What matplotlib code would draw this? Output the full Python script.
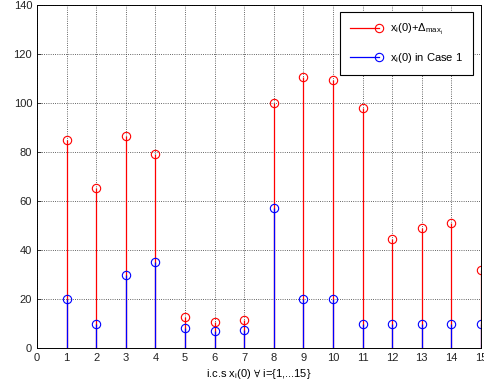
import matplotlib
matplotlib.use("Agg")
import matplotlib.pyplot as plt
from matplotlib.lines import Line2D
from matplotlib.legend_handler import HandlerBase

plt.rcParams['font.family'] = ['Liberation Sans', 'DejaVu Sans']
plt.rcParams['mathtext.default'] = 'regular'
plt.rcParams['font.size'] = 8

# data
idx = list(range(1, 16))
x_max = [85, 65.5, 86.5, 79, 12.5, 10.5, 11.5, 100, 110.5, 109.5, 98, 44.5, 49, 51, 32]
x_case1 = [20, 10, 30, 35, 8, 7, 7.5, 57, 20, 20, 10, 10, 10, 10, 10]


class EndMarker(HandlerBase):
    # legend entry: line with the marker only at its right end (matlab style)
    def create_artists(self, legend, orig_handle, xdescent, ydescent, width, height, fontsize, trans):
        y = height / 2 - ydescent
        x0, x1 = -xdescent, width - xdescent
        line = Line2D([x0, x1], [y, y], color=orig_handle.get_color(),
                      linewidth=orig_handle.get_linewidth())
        mk = Line2D([x1], [y], linestyle='none', marker='o', markerfacecolor='none',
                    markeredgecolor=orig_handle.get_color(),
                    markersize=orig_handle.get_markersize(), markeredgewidth=0.8)
        line.set_transform(trans)
        mk.set_transform(trans)
        return [line, mk]


fig = plt.figure(figsize=(4.84, 3.83), dpi=100)
ax = fig.add_axes([37/484, 35/383, 444/484, 343/383])

# red stems first, blue ones drawn on top
ml, sl, bl = ax.stem(idx, x_max, basefmt=' ')
plt.setp(sl, color='red', linewidth=0.9)
plt.setp(ml, marker='o', markerfacecolor='none', markeredgecolor='red', markersize=6, markeredgewidth=0.8)

ml2, sl2, bl2 = ax.stem(idx, x_case1, basefmt=' ')
plt.setp(sl2, color='blue', linewidth=0.9)
plt.setp(ml2, marker='o', markerfacecolor='none', markeredgecolor='blue', markersize=6, markeredgewidth=0.8)

ax.set_xlim(0, 15)
ax.set_ylim(0, 140)
ax.set_xticks(range(0, 16))
ax.set_yticks(range(0, 141, 20))
ax.grid(True, linestyle=':', color='#333333', linewidth=0.6)
ax.tick_params(direction='in', length=3, width=0.6, labelsize=8, colors='#222222')
for s in ax.spines.values():
    s.set_linewidth(0.7)
ax.set_xlabel(r'i.c.s x$_i$(0) $\forall$ i={1,...15}', fontsize=8, labelpad=3)

h1 = Line2D([0, 1], [0, 0], color='red', linewidth=0.9, marker='o', markersize=6)
h2 = Line2D([0, 1], [0, 0], color='blue', linewidth=0.9, marker='o', markersize=6)
leg = ax.legend([h1, h2], [r'x$_i$(0)+$\Delta_{max_i}$', r'x$_i$(0) in Case 1'],
                loc='upper right', fancybox=False, framealpha=1,
                edgecolor='black', fontsize=8, handlelength=2.6, handletextpad=1.0,
                borderpad=0.9, borderaxespad=0, labelspacing=1.2,
                bbox_to_anchor=(0.983, 0.979),
                handler_map={h1: EndMarker(), h2: EndMarker()})
leg.get_frame().set_linewidth(0.8)

fig.savefig('out.png', dpi=100)
